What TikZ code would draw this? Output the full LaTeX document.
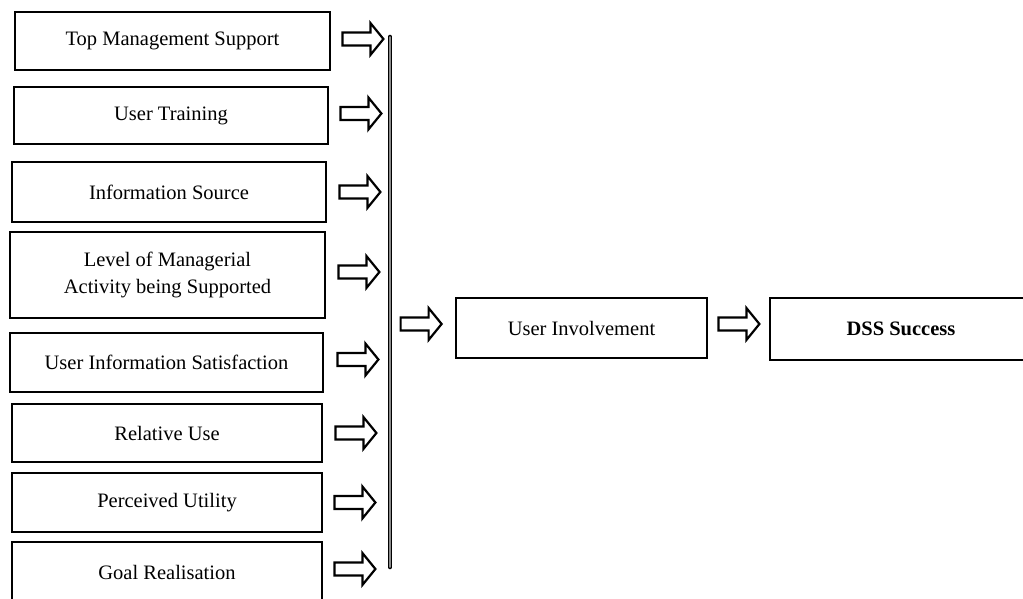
\documentclass[tikz,border=0pt]{standalone}
\usepackage{fontspec}
\setmainfont{Liberation Serif}
\usetikzlibrary{calc}
\begin{document}
\begin{tikzpicture}[x=1pt,y=-1pt,
  box/.style={draw=black, line width=2.8pt, align=center, inner sep=0pt,
              font=\fontsize{20.5}{27}\selectfont},
  arrowline/.style={draw=black, line width=2.2pt, fill=white, line join=miter},
  blockarr/.pic={\path[arrowline] (0,-6.5) -- (28,-6.5) -- (28,-16) -- (41,0)
                  -- (28,16) -- (28,6.5) -- (0,6.5) -- cycle;},
  collector/.style={draw=black, line width=1.4pt, double=black!45,
                    double distance=1.8pt, line cap=round}
]
\clip (0,0) rectangle (1023,599);
\fill[white] (0,0) rectangle (1023,599);

% factor boxes
\node[box, minimum width=315, minimum height=58] (b1) at (172.5,41)   {Top Management Support};
\node[box, minimum width=314, minimum height=57] (b2) at (171,115.5)  {User Training};
\node[box, minimum width=314, minimum height=60] (b3) at (169,192)    {Information Source};
\node[box, minimum width=315, minimum height=86] (b4) at (167.5,275)  {Level of Managerial\\Activity being Supported};
\node[box, minimum width=313, minimum height=59] (b5) at (166.5,362.5){User Information Satisfaction};
\node[box, minimum width=310, minimum height=58] (b6) at (167,433)    {Relative Use};
\node[box, minimum width=310, minimum height=59] (b7) at (167,502.5)  {Perceived Utility};
\node[box, minimum width=310, minimum height=60] (b8) at (167,572)    {Goal Realisation};

% block arrows from each factor towards the collecting line
\pic at ($(b1.east)+(11,-2)$) {blockarr};
\pic at ($(b2.east)+(11,-2)$) {blockarr};
\pic at ($(b3.east)+(12,0)$)  {blockarr};
\pic at ($(b4.east)+(12,-3)$) {blockarr};
\pic at ($(b5.east)+(13,-3)$) {blockarr};
\pic at ($(b6.east)+(12,0)$)  {blockarr};
\pic at ($(b7.east)+(11,0)$)  {blockarr};
\pic at ($(b8.east)+(11,-3)$) {blockarr};

% collecting line
\coordinate (ctop) at (390,37);
\coordinate (cbot) at (390,567);
\draw[collector] (ctop) -- (cbot);

% outcome boxes
\node[box, minimum width=251, minimum height=60] (ui)  at (581.5,328) {User Involvement};
\node[box, minimum width=262, minimum height=62, font=\fontsize{20.5}{27}\selectfont\bfseries] (dss) at (901,329) {DSS Success};

\pic at ($(ui.west)+(-54,-4)$) {blockarr};
\pic at ($(ui.east)+(10,-4)$)  {blockarr};
\end{tikzpicture}
\end{document}
